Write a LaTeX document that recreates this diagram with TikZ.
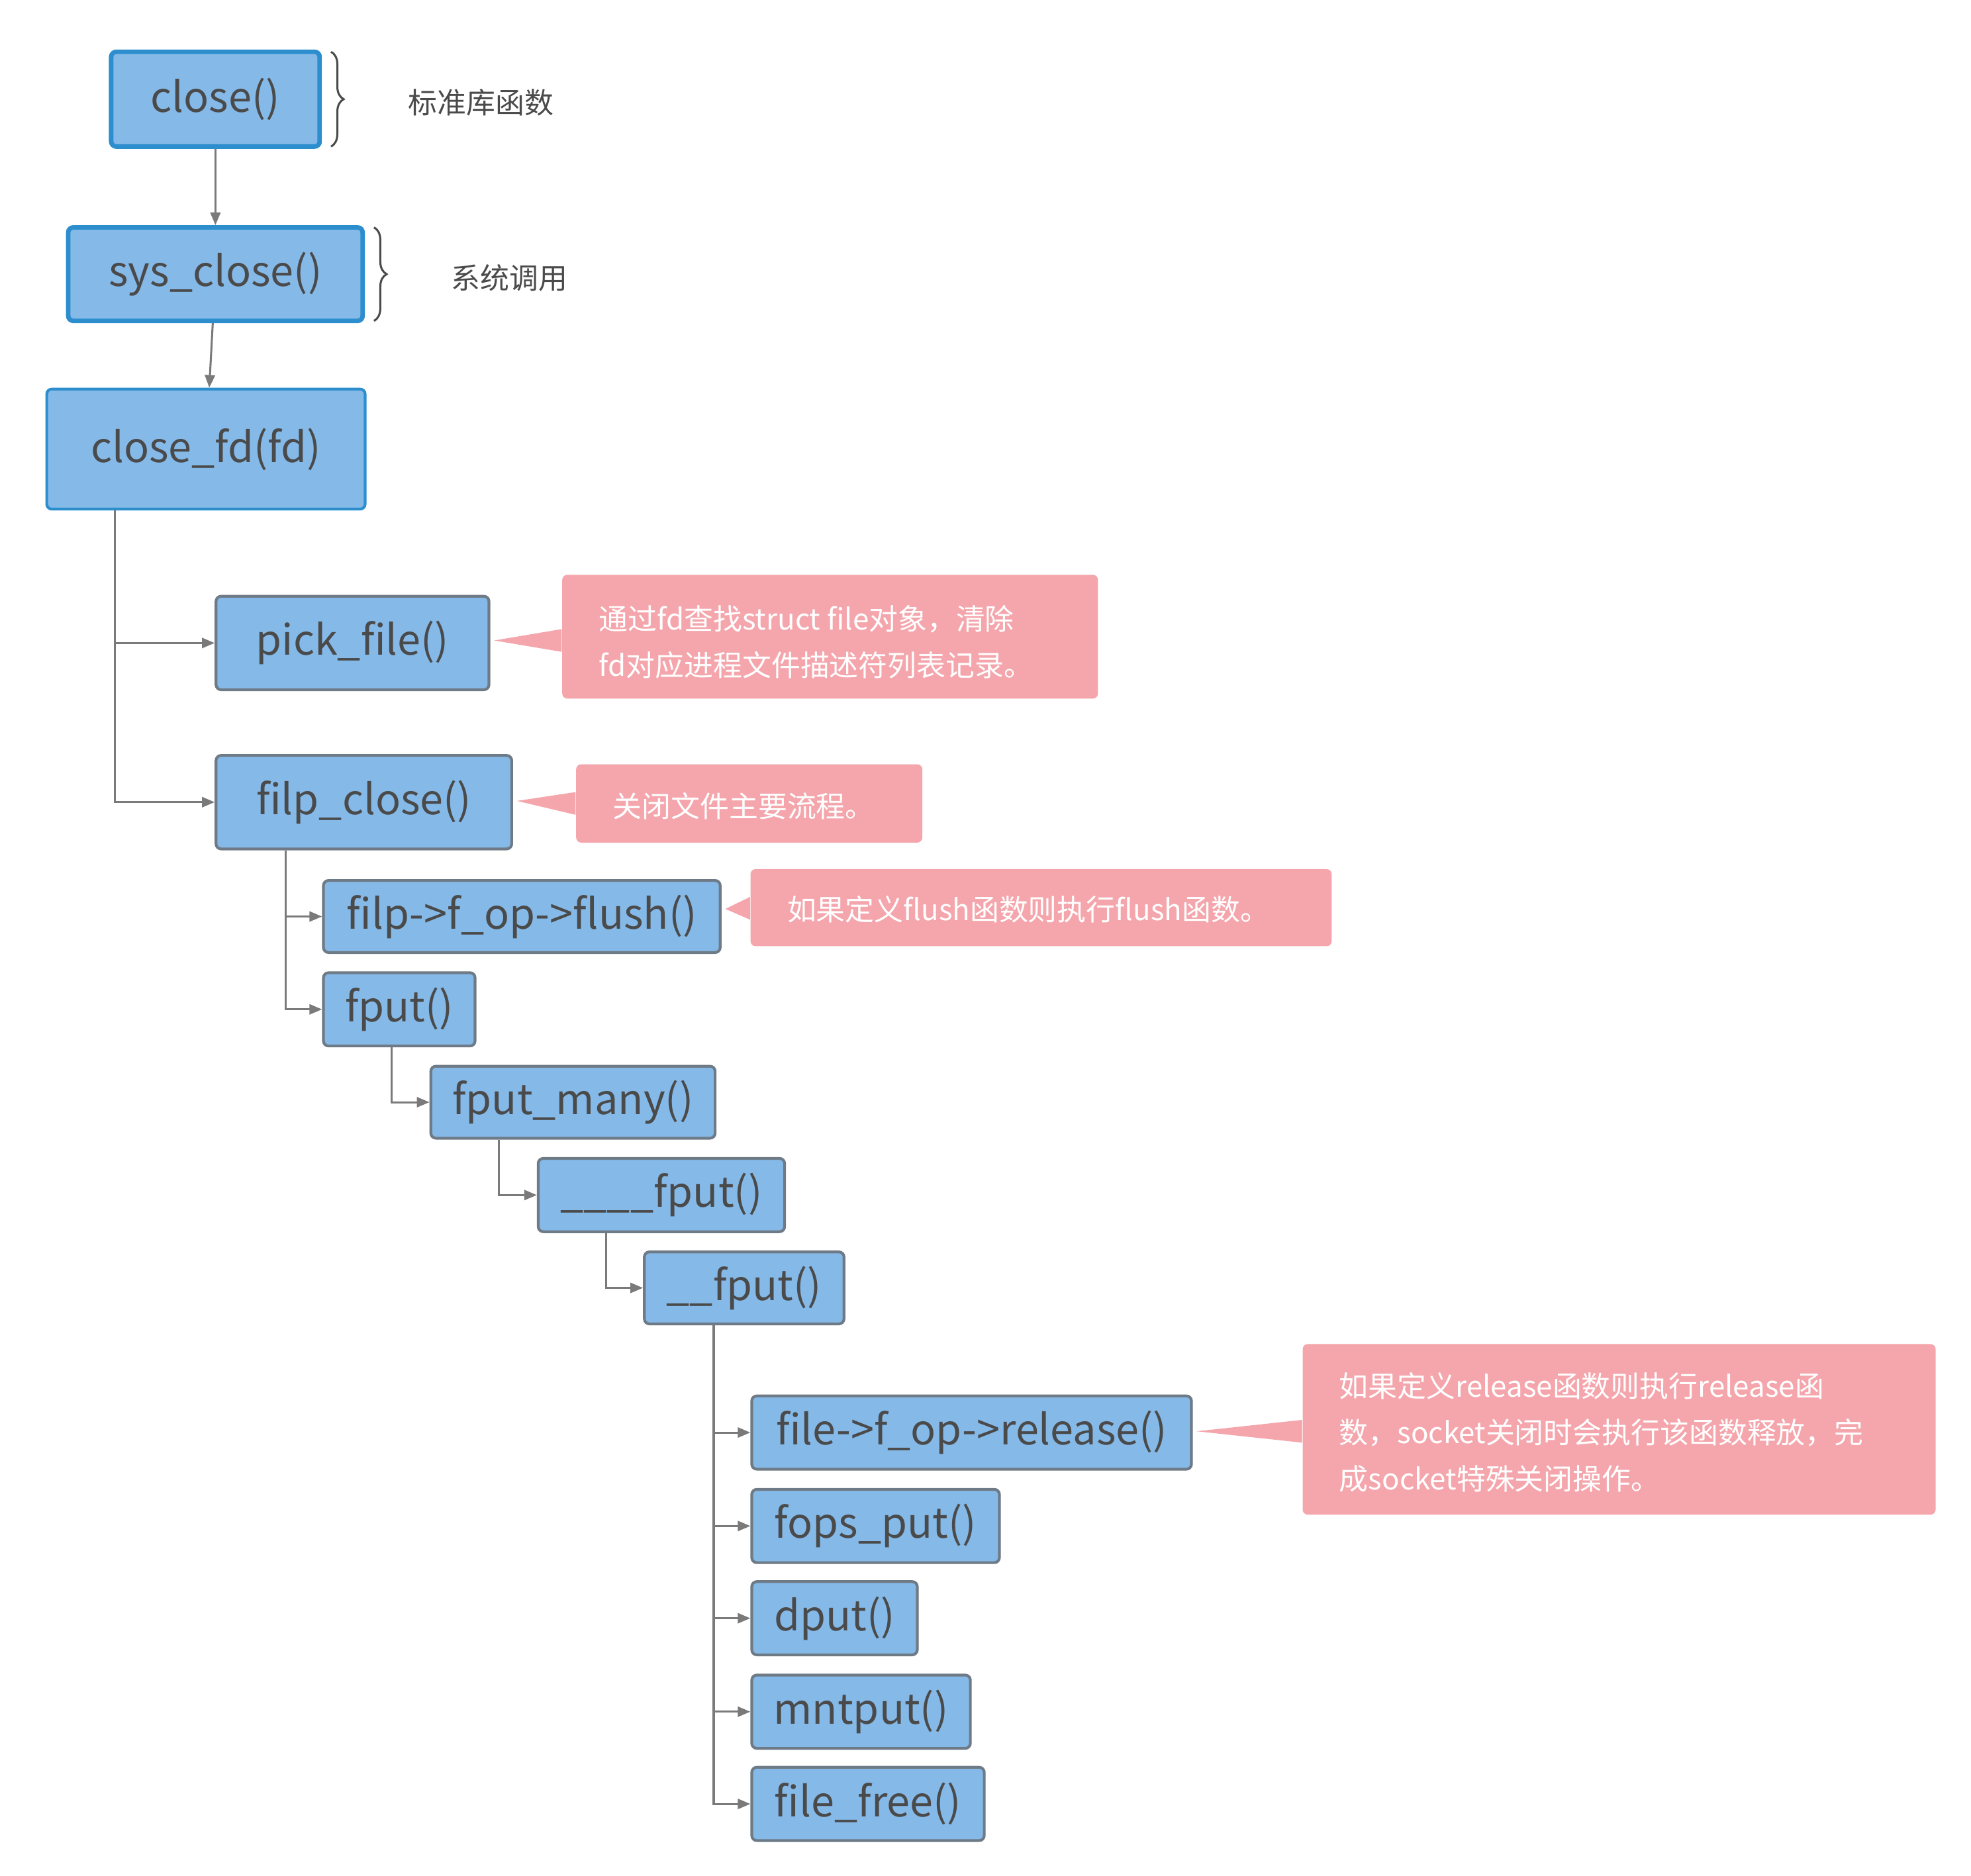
\documentclass[tikz,border=0pt]{standalone}
\usepackage{fontspec}
\setmainfont{Noto Sans CJK SC}
\usetikzlibrary{fit,arrows.meta,decorations.pathreplacing}
\definecolor{bfill}{HTML}{85B9E8}
\definecolor{bblue}{HTML}{2D8ECE}
\definecolor{bgrey}{HTML}{6E7B86}
\definecolor{tx}{HTML}{4A4A4A}
\definecolor{pink}{HTML}{F4A6AC}
\definecolor{ln}{HTML}{7A7A7A}
\tikzset{
 box/.style={draw=bgrey,fill=bfill,line width=1.1pt,rounded corners=2pt,inner sep=0pt},
 main/.style={box,draw=bblue,line width=1.8pt},
 fd/.style={box,draw=bblue,line width=1.1pt},
 btxt/.style={text=tx,font=\fontsize{16.5}{18}\selectfont},
 call/.style={fill=pink,rounded corners=2pt,inner sep=0pt},
 ctxt/.style={text=white,font=\fontsize{11.5}{18.3}\selectfont,align=left,anchor=west},
 arr/.style={draw=ln,line width=0.8pt,-{Triangle[length=5pt,width=4pt]}},
 lbl/.style={text=tx,font=\fontsize{11.5}{14}\selectfont,anchor=west},
 br/.style={draw=tx,line width=0.8pt,decorate,decoration={brace,amplitude=5pt}}
}
\newcommand\bx[7]{\node[#1,fit={(#3,#4)(#5,#6)}] (#2) {};\node[btxt] at (#2.center) {#7};}
\begin{document}
\begin{tikzpicture}[x=0.5pt,y=-0.5pt]
\useasboundingbox (0,0) rectangle (1560,1485);
\bx{main}{close}{88}{41}{253}{116}{close()}
\bx{main}{sys}{54}{180}{287}{254}{sys\_close()}
\bx{fd}{closefd}{37}{308}{289}{403}{close\_fd(fd)}
\bx{box}{pick}{171}{472}{387}{546}{pick\_file()}
\bx{box}{filp}{171}{598}{405}{672}{filp\_close()}
\bx{box}{flush}{256}{697}{570}{754}{filp->f\_op->flush()}
\bx{box}{fput}{256}{770}{376}{828}{fput()}
\bx{box}{many}{341}{844}{566}{901}{fput\_many()}
\bx{box}{f4}{426}{917}{621}{975}{\_\_\_\_fput()}
\bx{box}{f2}{510}{991}{668}{1048}{\_\_fput()}
\bx{box}{rel}{595}{1105}{943}{1163}{file->f\_op->release()}
\bx{box}{fops}{595}{1179}{791}{1237}{fops\_put()}
\bx{box}{dput}{595}{1252}{726}{1310}{dput()}
\bx{box}{mnt}{595}{1326}{768}{1384}{mntput()}
\bx{box}{free}{595}{1399}{779}{1457}{file\_free()}
% braces
\draw[br] (262,41) -- (262,116);
\draw[br] (296,180) -- (296,254);
\node[lbl] (l1) at (316,81) {标准库函数};
\node[lbl] (l2) at (350,220) {系统调用};
% connectors
\draw[arr] (close) -- (sys);
\draw[arr] (sys) -- (closefd);
\draw[arr] (closefd.south west) ++(55,0) |- (pick.west);
\draw[arr] (closefd.south west) ++(55,0) |- (filp.west);
\draw[arr] (filp.south west) ++(56,0) |- (flush.west);
\draw[arr] (filp.south west) ++(56,0) |- (fput.west);
\draw[arr] (fput.south west) ++(55,0) |- (many.west);
\draw[arr] (many.south west) ++(55,0) |- (f4.west);
\draw[arr] (f4.south west) ++(55,0) |- (f2.west);
\foreach \t in {rel,fops,dput,mnt,free}
  \draw[arr] (f2.south west) ++(56,0) |- (\t.west);
% callouts
\node[call,fit={(445,455)(869,553)}] (c1) {};
\fill[pink] (pick.east) ++(3,-2) -- (c1.west |- 0,498) -- (c1.west |- 0,516) -- cycle;
\node[ctxt] at (467,508) {通过fd查找struct file对象，清除\\fd对应进程文件描述符列表记录。};
\node[call,fit={(456,605)(730,667)}] (c2) {};
\fill[pink] (filp.east) ++(3,-1) -- (c2.west |- 0,627) -- (c2.west |- 0,645) -- cycle;
\node[ctxt] at (478,638) {关闭文件主要流程。};
\node[call,fit={(594,688)(1054,749)}] (c3) {};
\fill[pink] (flush.east) ++(3,-6) -- (c3.west |- 0,710) -- (c3.west |- 0,728) -- cycle;
\node[ctxt] at (616,720) {如果定义flush函数则执行flush函数。};
\node[call,fit={(1031,1064)(1532,1199)}] (c4) {};
\fill[pink] (rel.east) ++(3,-1) -- (c4.west |- 0,1124) -- (c4.west |- 0,1142) -- cycle;
\node[ctxt] at (1053,1134) {如果定义release函数则执行release函\\数，socket关闭时会执行该函数释放，完\\成socket特殊关闭操作。};
\end{tikzpicture}
\end{document}
